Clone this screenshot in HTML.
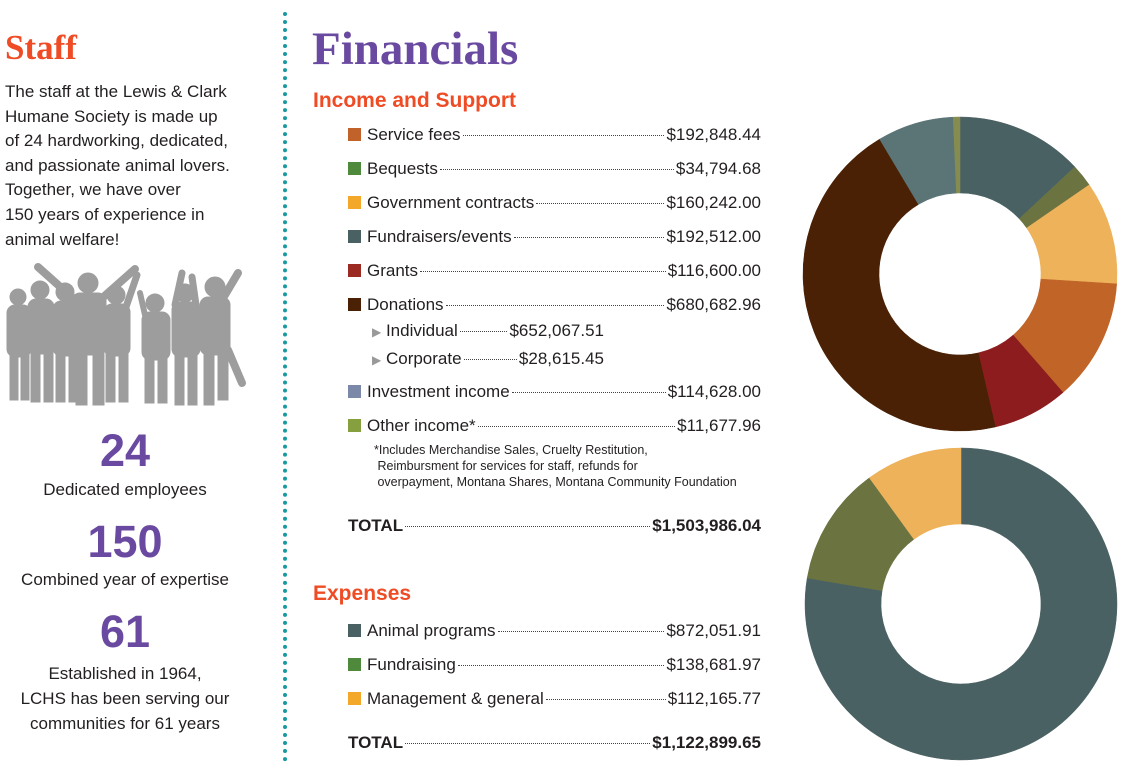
<!DOCTYPE html>
<html><head><meta charset="utf-8"><style>
body{margin:0;width:1127px;height:770px;background:#fff;position:relative;overflow:hidden;font-family:"Liberation Sans",sans-serif;color:#231f20}
.a{position:absolute;white-space:nowrap}
.row{position:absolute;display:flex;align-items:baseline;font-size:17px;line-height:20px;height:20px}
.row .l{flex:0 0 auto}
.row .d{flex:1 1 auto;border-bottom:1px dotted #444;margin:0 2px;transform:translateY(-4px);height:0}
.row .v{flex:0 0 auto}
.sw{position:absolute;width:13px;height:13px}
.c{position:absolute;left:0;width:250px;text-align:center}
.big{font-weight:bold;color:#6a4aa0;font-size:45px}
.lt{font-size:17px}
</style></head><body>
<div class="a" style="left:5px;top:28px;font-family:'Liberation Serif',serif;font-weight:bold;font-size:35px;color:#ef4b24">Staff</div>
<div class="a" style="left:5px;top:80px;font-size:17px;line-height:24.6px">The staff at the Lewis &amp; Clark<br>Humane Society is made up<br>of 24 hardworking, dedicated,<br>and passionate animal lovers.<br>Together, we have over<br>150 years of experience in<br>animal welfare!</div>
<svg class="a" style="left:0;top:255px" width="260" height="160" viewBox="0 0 260 160">
<g fill="#9c9d9c" stroke="#9c9d9c" stroke-linecap="round">
<circle cx="18" cy="42" r="8"/><rect x="7" y="50" width="24" height="52" rx="8"/><rect x="10" y="95" width="8" height="50"/><rect x="21" y="95" width="8" height="50"/>
<circle cx="40" cy="35" r="9"/><rect x="28" y="44" width="26" height="55" rx="8"/><rect x="31" y="95" width="9" height="52"/><rect x="44" y="95" width="9" height="52"/>
<circle cx="65" cy="37" r="9"/><rect x="53" y="46" width="26" height="55" rx="8"/><rect x="56" y="95" width="9" height="52"/><rect x="69" y="95" width="9" height="52"/>
<circle cx="88" cy="28" r="10"/><rect x="72" y="38" width="34" height="62" rx="8"/><rect x="76" y="95" width="11" height="55"/><rect x="93" y="95" width="11" height="55"/>
<path d="M75 45 L38 12 M100 45 L135 14" stroke-width="8" fill="none"/>
<circle cx="116" cy="40" r="9"/><rect x="104" y="49" width="26" height="52" rx="8"/><rect x="106" y="95" width="9" height="52"/><rect x="119" y="95" width="9" height="52"/>
<path d="M126 52 L137 20" stroke-width="7" fill="none"/>
<circle cx="155" cy="48" r="9"/><rect x="142" y="57" width="28" height="48" rx="8"/><rect x="145" y="100" width="9" height="48"/><rect x="158" y="100" width="9" height="48"/>
<path d="M145 60 L140 38" stroke-width="6" fill="none"/>
<circle cx="185" cy="38" r="9"/><rect x="172" y="47" width="28" height="55" rx="8"/><rect x="175" y="98" width="9" height="52"/><rect x="188" y="98" width="9" height="52"/>
<path d="M175 50 L182 18 M196 50 L192 22" stroke-width="7" fill="none"/>
<circle cx="215" cy="32" r="10"/><rect x="200" y="42" width="30" height="58" rx="8"/><rect x="204" y="95" width="10" height="55"/><rect x="218" y="95" width="10" height="50"/>
<path d="M222 45 L238 18 M228 95 L242 128" stroke-width="8" fill="none"/>
</g></svg>
<div class="c big" style="top:425px">24</div>
<div class="c lt" style="top:480px">Dedicated employees</div>
<div class="c big" style="top:516px">150</div>
<div class="c lt" style="top:570px">Combined year of expertise</div>
<div class="c big" style="top:606px">61</div>
<div class="c lt" style="top:661px;line-height:25px">Established in 1964,<br>LCHS has been serving our<br>communities for 61 years</div>
<div class="a" style="left:283px;top:12px;height:750px;border-left:4px dotted #1a9aa0"></div>
<div class="a" style="left:312px;top:22px;font-family:'Liberation Serif',serif;font-weight:bold;font-size:47px;color:#6a4aa0">Financials</div>
<div class="a" style="left:313px;top:89px;font-weight:bold;font-size:21px;color:#ef4b24">Income and Support</div>
<div class="a" style="left:313px;top:582px;font-weight:bold;font-size:21px;color:#ef4b24">Expenses</div>
<div id="rows"></div>
<div class="a" style="left:374px;top:442px;font-size:12.5px;line-height:16px">*Includes Merchandise Sales, Cruelty Restitution,<br>&nbsp;Reimbursment for services for staff, refunds for<br>&nbsp;overpayment, Montana Shares, Montana Community Foundation</div>
<svg class="a" style="left:0;top:0" width="1127" height="770" id="pies"></svg>
<script>
var R=document.getElementById('rows'),h='';
function row(y,c,l,v,x0,x1,b){if(c)h+='<div class="sw" style="left:348px;top:'+(y-6)+'px;background:'+c+'"></div>';
h+='<div class="row" style="left:'+x0+'px;width:'+(x1-x0)+'px;top:'+(y-9)+'px;'+(b?'font-weight:bold;':'')+'"><span class="l">'+l+'</span><span class="d"></span><span class="v">'+v+'</span></div>';}
row(134,'#c0622a','Service fees','$192,848.44',367,761);
row(168,'#4f8a3c','Bequests','$34,794.68',367,761);
row(202,'#f3a82a','Government contracts','$160,242.00',367,761);
row(236,'#4a6163','Fundraisers/events','$192,512.00',367,761);
row(270,'#9a2a22','Grants','$116,600.00',367,761);
row(304,'#4a2105','Donations','$680,682.96',367,761);
row(330,null,'<span style="color:#999;font-size:12px">&#9654;</span> Individual','$652,067.51',372,604);
row(358,null,'<span style="color:#999;font-size:12px">&#9654;</span> Corporate','$28,615.45',372,604);
row(391,'#7b88a8','Investment income','$114,628.00',367,761);
row(425,'#86a040','Other income*','$11,677.96',367,761);
row(525,null,'TOTAL','$1,503,986.04',348,761,1);
row(630,'#4a6163','Animal programs','$872,051.91',367,761);
row(664,'#4f8a3c','Fundraising','$138,681.97',367,761);
row(698,'#f3a82a','Management &amp; general','$112,165.77',367,761);
row(742,null,'TOTAL','$1,122,899.65',348,761,1);
R.innerHTML=h;
function arc(cx,cy,r0,r1,a0,a1,c){function p(r,a){a=(a-90)*Math.PI/180;return (cx+r*Math.cos(a)).toFixed(2)+' '+(cy+r*Math.sin(a)).toFixed(2)}
var L=(a1-a0)>180?1:0;return '<path fill="'+c+'" stroke="'+c+'" stroke-width="0.5" d="M'+p(r1,a0)+' A'+r1+' '+r1+' 0 '+L+' 1 '+p(r1,a1)+' L'+p(r0,a1)+' A'+r0+' '+r0+' 0 '+L+' 0 '+p(r0,a0)+'Z"/>';}
var s='',A=[[0,47,'#4a6163'],[47,55.4,'#6b7340'],[55.4,93.6,'#eeb25a'],[93.6,139,'#c06428'],[139,167,'#8c1c1e'],[167,329.2,'#4a2105'],[329.2,357.5,'#5b7476'],[357.5,360,'#868c50']];
A.forEach(function(x){s+=arc(960,274,81,157,x[0],x[1],x[2])});
var B=[[0,279.6,'#4a6163'],[279.6,324,'#6b7340'],[324,360,'#eeb25a']];
B.forEach(function(x){s+=arc(961,604,80,156,x[0],x[1],x[2])});
document.getElementById('pies').innerHTML=s;
</script>
</body></html>
